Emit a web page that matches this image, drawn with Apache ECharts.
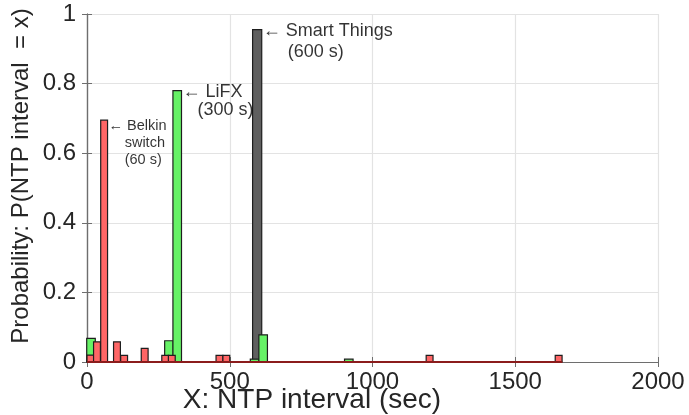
<!DOCTYPE html>
<html>
<head>
<meta charset="utf-8">
<script src="https://cdn.jsdelivr.net/npm/echarts@6/dist/echarts.min.js"></script>
<style>
html, body { margin: 0; padding: 0; background: #fff; }
#ntp_hist { width: 689px; height: 415px; }
</style>
</head>
<body>
<div id="ntp_hist"></div>
<script>
// histogram bins: centre of each bin (sec) and probability
const belkinCenters = [12, 35, 60, 105, 130, 202, 274, 297, 464, 488, 1200, 1652];
const belkinProb = [0.02, 0.058, 0.695, 0.058, 0.019, 0.039, 0.019, 0.019, 0.019, 0.019, 0.019, 0.019];
const lifxCenters = [14, 287, 316, 587, 617, 917];
const lifxProb = [0.068, 0.061, 0.78, 0.008, 0.078, 0.008];
const smartCenters = [596];
const smartProb = [0.955];
// zero-probability bins of the Belkin histogram lie along the axis
const belkinBaseX = [0, 1665];

const noteX = [72, 331, 612];
const noteY = [0.695, 0.78, 0.955];
const noteText = ["← Belkin\n    switch\n    (60 s)", "← LiFX\n   (300 s)", "← Smart Things\n     (600 s)"];

const FONT = "'Liberation Sans', Arial, Helvetica, sans-serif";

function histSeries(name, centers, probs, binWidth, color) {
  return {
    name: name,
    type: "custom",
    renderItem: function (params, api) {
      const c = api.value(0);
      const p = api.value(1);
      const p0 = api.coord([c - binWidth / 2, 0]);
      const p1 = api.coord([c + binWidth / 2, p]);
      return {
        type: "rect",
        shape: { x: p0[0], y: p1[1], width: p1[0] - p0[0], height: p0[1] - p1[1] },
        style: { fill: color, stroke: "#1e1e1e", lineWidth: 1.2 },
      };
    },
    encode: { x: 0, y: 1 },
    data: centers.map((c, i) => [c, probs[i]]),
    z: 3,
  };
}

const myChart = echarts.init(document.getElementById("ntp_hist"));
const option = {
  animation: false,
  textStyle: { fontFamily: FONT },
  grid: { left: 87, right: 31, top: 14, bottom: 53 },
  xAxis: [
    {
      type: "value",
      min: 0,
      max: 2000,
      interval: 500,
      axisLine: { lineStyle: { color: "#6e6e6e", width: 1.2 } },
      axisTick: { inside: true, length: 5, lineStyle: { color: "#6e6e6e" } },
      axisLabel: { color: "#262626", fontSize: 24, margin: 8, fontFamily: FONT, formatter: (v) => String(v) },
      splitLine: { show: true, lineStyle: { color: "#e3e3e3", width: 1.2 } },
    },
    {
      type: "value",
      position: "top",
      min: 0,
      max: 2000,
      interval: 500,
      axisLine: { show: true, lineStyle: { color: "#6e6e6e", width: 1.2 } },
      axisTick: { inside: true, length: 5, lineStyle: { color: "#6e6e6e" } },
      axisLabel: { show: false },
      splitLine: { show: false },
    },
  ],
  yAxis: [
    {
      type: "value",
      min: 0,
      max: 1,
      interval: 0.2,
      axisLine: { show: true, lineStyle: { color: "#6e6e6e", width: 1.2 } },
      axisTick: { show: true, inside: true, length: 5, lineStyle: { color: "#6e6e6e" } },
      axisLabel: { color: "#262626", fontSize: 24, margin: 11, fontFamily: FONT },
      splitLine: { show: true, lineStyle: { color: "#e3e3e3", width: 1 } },
    },
    {
      type: "value",
      position: "right",
      min: 0,
      max: 1,
      interval: 0.2,
      axisLine: { show: true, lineStyle: { color: "#6e6e6e", width: 1.2 } },
      axisTick: { show: true, inside: true, length: 5, lineStyle: { color: "#6e6e6e" } },
      axisLabel: { show: false },
      splitLine: { show: false },
    },
  ],
  graphic: [
    {
      type: "text",
      x: 312,
      y: 400,
      style: {
        text: "X: NTP interval (sec)",
        font: "28px " + FONT,
        fill: "#262626",
        align: "center",
        verticalAlign: "middle",
      },
    },
    {
      type: "text",
      x: 21,
      y: 176,
      rotation: Math.PI / 2,
      style: {
        text: "Probability: P(NTP interval  = x)",
        font: "24px " + FONT,
        fill: "#262626",
        align: "center",
        verticalAlign: "middle",
      },
    },
  ],
  series: [
    {
      name: "base",
      type: "line",
      data: belkinBaseX.map((x) => [x, 0]),
      symbol: "none",
      lineStyle: { color: "#8b1c1c", width: 2 },
      z: 4,
    },
    histSeries("Smart Things", smartCenters, smartProb, 32, "#5f5f5f"),
    histSeries("LiFX", lifxCenters, lifxProb, 30, "#66f266"),
    histSeries("Belkin switch", belkinCenters, belkinProb, 24, "#ff6666"),
    {
      name: "notes",
      type: "scatter",
      symbolSize: 0,
      z: 5,
      data: [
        {
          value: [noteX[0], noteY[0]],
          label: { show: true, formatter: noteText[0], position: [1, -3], align: "left", verticalAlign: "top", fontSize: 14.5, lineHeight: 17, color: "#000", fontFamily: FONT },
        },
        {
          value: [noteX[1], noteY[1]],
          label: { show: true, formatter: noteText[1], position: [1, -8], align: "left", verticalAlign: "top", fontSize: 18, lineHeight: 18, color: "#000", fontFamily: FONT },
        },
        {
          value: [noteX[2], noteY[2]],
          label: { show: true, formatter: noteText[2], position: [1, -9], align: "left", verticalAlign: "top", fontSize: 18, lineHeight: 21, color: "#000", fontFamily: FONT },
        },
      ],
    },
  ],
};
myChart.setOption(option);
</script>
</body>
</html>
